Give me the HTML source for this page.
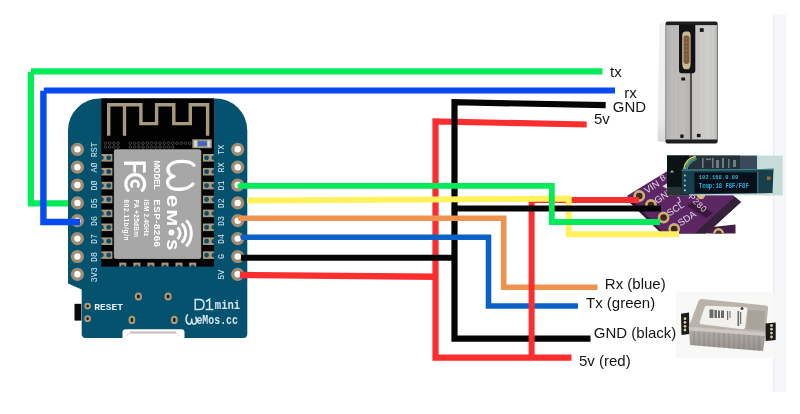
<!DOCTYPE html>
<html><head><meta charset="utf-8">
<style>
html,body{margin:0;padding:0;background:#fff;width:800px;height:414px;overflow:hidden}
svg{display:block;will-change:transform}
</style></head>
<body>
<svg width="800" height="414" viewBox="0 0 800 414" font-family="Liberation Sans, sans-serif">
<rect x="0" y="0" width="800" height="414" fill="#fff"/>
<!-- faint right band -->
<rect x="773" y="14" width="13" height="378" fill="#f5f7f8"/>
<rect x="773" y="14" width="1.4" height="378" fill="#eaecef"/>

<!-- particle sensor -->
<defs>
  <linearGradient id="sideg" x1="0" x2="0" y1="0" y2="1">
    <stop offset="0" stop-color="#f2f2f2"/><stop offset="0.8" stop-color="#ebebeb"/><stop offset="1" stop-color="#d6d6d6"/>
  </linearGradient>
  <linearGradient id="silverL" x1="0" x2="1" y1="0" y2="0">
    <stop offset="0" stop-color="#a8a6a4"/><stop offset="0.15" stop-color="#b8b6b4"/><stop offset="0.6" stop-color="#bebcba"/><stop offset="1" stop-color="#b6b4b2"/>
  </linearGradient>
  <linearGradient id="silverR" x1="0" x2="1" y1="0" y2="0">
    <stop offset="0" stop-color="#c4c2c0"/><stop offset="0.6" stop-color="#cdcbc9"/><stop offset="0.9" stop-color="#c8c6c4"/><stop offset="1" stop-color="#b8b6b4"/>
  </linearGradient>
</defs>
<g id="pms">
  <path d="M659.3 24 L665.6 22 L666 142.5 L657.6 141 Z" fill="url(#sideg)"/>
  <rect x="665.6" y="21.4" width="52" height="122.2" rx="2" fill="#1e1e1e"/>
  <rect x="665.6" y="25.1" width="25" height="114.4" fill="url(#silverL)"/>
  <rect x="691.6" y="25.1" width="25.4" height="114.4" fill="url(#silverR)"/>
  <rect x="690.1" y="73" width="1.6" height="67" fill="#4a4a4a"/>
  <g stroke="#ffffff" stroke-width="0.5" opacity="0.25">
    <path d="M668 26 V139"/><path d="M672 26 V139"/><path d="M675.5 75 V139"/><path d="M684 75 V139"/><path d="M696 26 V139"/><path d="M702 26 V139"/><path d="M708 26 V139"/><path d="M713 26 V139"/>
  </g>
  <path d="M679 24.5 H695.3 V70.5 A2.8 2.8 0 0 1 692.5 73.3 H681.8 A2.8 2.8 0 0 1 679 70.5 Z" fill="#121212"/>
  <path d="M685 31.6 H688.5 Q690.6 32.2 690.6 35.5 V64 Q690.6 67.5 688.8 69.2 H684.2 Q682.2 67.5 682.2 64 V35.5 Q682.2 32.2 685 31.6 Z" fill="#c9b896"/>
  <rect x="683.6" y="35.6" width="5.8" height="28.4" rx="2.4" fill="#7c5a40"/>
  <g fill="#a07850"><rect x="685.8" y="38" width="1.4" height="1.2"/><rect x="685.8" y="42" width="1.4" height="1.2"/><rect x="685.8" y="46" width="1.4" height="1.2"/><rect x="685.8" y="50" width="1.4" height="1.2"/><rect x="685.8" y="54" width="1.4" height="1.2"/><rect x="685.8" y="58" width="1.4" height="1.2"/></g>
  <g fill="#151515">
    <rect x="699.8" y="28.2" width="3.9" height="3.7"/>
    <rect x="681.3" y="77.5" width="3.8" height="3"/>
    <rect x="680.3" y="134.5" width="3.3" height="3.4"/>
    <rect x="696.9" y="133.9" width="3.6" height="3.3"/>
  </g>
</g>

<!-- top-left wires (behind board) -->
<g fill="none" stroke-linecap="butt" stroke-linejoin="miter">
  <path d="M602.5 71.45 H31" stroke="#04eb5a" stroke-width="6.3"/>
  <path d="M30.85 72 V203.4 H70" stroke="#04eb5a" stroke-width="6.3"/>
</g>

<!-- BOARD -->
<g id="board">
  <path d="M68 130.4 A32 32 0 0 1 100.2 98.4 H215.3 A32 32 0 0 1 247.3 130.4 V334 A4 4 0 0 1 243.3 338 H85.7 A4 4 0 0 1 81.7 334 V289.6 L68 283.4 Z" fill="#05526f"/>
  <!-- usb notch -->
  <path d="M122.5 340 V332.2 A3 3 0 0 1 125.5 329.2 H181.5 A3 3 0 0 1 184.5 332.2 V340 Z" fill="#fff"/>
  <path d="M126 336.5 L130 332.4 M176 332.4 L180 336.5" fill="none" stroke="#d6d6d8" stroke-width="1"/>
  <path d="M130 332.4 H176" fill="none" stroke="#c4bcbc" stroke-width="2"/>
  <!-- black module area -->
  <rect x="101.3" y="98.4" width="112.7" height="168.2" fill="#020202"/>
  <!-- antenna -->
  <g fill="none" stroke="#a89a7e" stroke-width="3.4" stroke-linejoin="miter">
    <path d="M108.7 135.8 V104.7 H140.9 V123.6 H156.6 V104.7 H173.8 V123.6 H190.3 V104.7 H207.6 V135.8"/>
    <path d="M124.5 104.7 V135.8"/>
  </g>
  <!-- dot rows -->
  <g fill="none" stroke="#4a4a4a" stroke-width="0.9">
    <circle cx="105.5" cy="143.2" r="1.3"/><circle cx="109.7" cy="143.2" r="1.3"/><circle cx="113.9" cy="143.2" r="1.3"/><circle cx="118.1" cy="143.2" r="1.3"/>
    <circle cx="105.5" cy="147.1" r="1.3"/><circle cx="109.7" cy="147.1" r="1.3"/><circle cx="113.9" cy="147.1" r="1.3"/><circle cx="118.1" cy="147.1" r="1.3"/>
    <circle cx="130.3" cy="143.2" r="1.3"/><circle cx="134.5" cy="143.2" r="1.3"/><circle cx="138.8" cy="143.2" r="1.3"/><circle cx="143.0" cy="143.2" r="1.3"/><circle cx="147.3" cy="143.2" r="1.3"/><circle cx="151.5" cy="143.2" r="1.3"/><circle cx="155.8" cy="143.2" r="1.3"/><circle cx="160.0" cy="143.2" r="1.3"/><circle cx="164.3" cy="143.2" r="1.3"/><circle cx="168.5" cy="143.2" r="1.3"/><circle cx="172.8" cy="143.2" r="1.3"/><circle cx="177.0" cy="143.2" r="1.3"/><circle cx="181.3" cy="143.2" r="1.3"/><circle cx="185.5" cy="143.2" r="1.3"/><circle cx="189.8" cy="143.2" r="1.3"/>
    <circle cx="130.3" cy="147.1" r="1.3"/><circle cx="134.5" cy="147.1" r="1.3"/><circle cx="138.8" cy="147.1" r="1.3"/><circle cx="143.0" cy="147.1" r="1.3"/><circle cx="147.3" cy="147.1" r="1.3"/><circle cx="151.5" cy="147.1" r="1.3"/><circle cx="155.8" cy="147.1" r="1.3"/><circle cx="160.0" cy="147.1" r="1.3"/><circle cx="164.3" cy="147.1" r="1.3"/><circle cx="168.5" cy="147.1" r="1.3"/><circle cx="172.8" cy="147.1" r="1.3"/>
  </g>
  <!-- SMD -->
  <rect x="192.3" y="139.3" width="19.5" height="8.9" fill="#9c9684"/>
  <rect x="194" y="140.5" width="3" height="6.5" fill="#d8d4c8"/>
  <rect x="207.3" y="140.5" width="3" height="6.5" fill="#d8d4c8"/>
  <rect x="198" y="141.3" width="8.9" height="4.5" fill="#3f64c8"/>
  <!-- pads -->
  <g id="padsL" fill="#a89878">
    <rect x="101.4" y="154" width="11" height="7.6"/>
    <rect x="101.4" y="167.9" width="11" height="7.6"/>
    <rect x="101.4" y="181.8" width="11" height="7.6"/>
    <rect x="101.4" y="195.7" width="11" height="7.6"/>
    <rect x="101.4" y="209.6" width="11" height="7.6"/>
    <rect x="101.4" y="223.5" width="11" height="7.6"/>
    <rect x="101.4" y="237.4" width="11" height="7.6"/>
    <rect x="101.4" y="251.3" width="11" height="7.6"/>
    <rect x="202.9" y="154" width="11" height="7.6"/>
    <rect x="202.9" y="167.9" width="11" height="7.6"/>
    <rect x="202.9" y="181.8" width="11" height="7.6"/>
    <rect x="202.9" y="195.7" width="11" height="7.6"/>
    <rect x="202.9" y="209.6" width="11" height="7.6"/>
    <rect x="202.9" y="223.5" width="11" height="7.6"/>
    <rect x="202.9" y="237.4" width="11" height="7.6"/>
    <rect x="202.9" y="251.3" width="11" height="7.6"/>
    <rect x="119.3" y="262.6" width="7" height="4"/>
    <rect x="133.4" y="262.6" width="7" height="4"/>
    <rect x="147.4" y="262.6" width="7" height="4"/>
    <rect x="161.5" y="262.6" width="7" height="4"/>
    <rect x="175.5" y="262.6" width="7" height="4"/>
    <rect x="189.2" y="262.6" width="7" height="4"/>
  </g>
  <g fill="#0b4a68">
    <circle cx="108.7" cy="157.8" r="2.4"/><circle cx="108.7" cy="171.7" r="2.4"/><circle cx="108.7" cy="185.6" r="2.4"/><circle cx="108.7" cy="199.5" r="2.4"/><circle cx="108.7" cy="213.4" r="2.4"/><circle cx="108.7" cy="227.3" r="2.4"/><circle cx="108.7" cy="241.2" r="2.4"/><circle cx="108.7" cy="255.1" r="2.4"/>
    <circle cx="101.6" cy="157.8" r="2.2"/><circle cx="101.6" cy="171.7" r="2.2"/><circle cx="101.6" cy="185.6" r="2.2"/><circle cx="101.6" cy="199.5" r="2.2"/><circle cx="101.6" cy="213.4" r="2.2"/><circle cx="101.6" cy="227.3" r="2.2"/><circle cx="101.6" cy="241.2" r="2.2"/><circle cx="101.6" cy="255.1" r="2.2"/>
    <circle cx="206.6" cy="157.8" r="2.4"/><circle cx="206.6" cy="171.7" r="2.4"/><circle cx="206.6" cy="185.6" r="2.4"/><circle cx="206.6" cy="199.5" r="2.4"/><circle cx="206.6" cy="213.4" r="2.4"/><circle cx="206.6" cy="227.3" r="2.4"/><circle cx="206.6" cy="241.2" r="2.4"/><circle cx="206.6" cy="255.1" r="2.4"/>
    <circle cx="213.7" cy="157.8" r="2.2"/><circle cx="213.7" cy="171.7" r="2.2"/><circle cx="213.7" cy="185.6" r="2.2"/><circle cx="213.7" cy="199.5" r="2.2"/><circle cx="213.7" cy="213.4" r="2.2"/><circle cx="213.7" cy="227.3" r="2.2"/><circle cx="213.7" cy="241.2" r="2.2"/><circle cx="213.7" cy="255.1" r="2.2"/>
    <circle cx="122.8" cy="266.6" r="2"/><circle cx="136.9" cy="266.6" r="2"/><circle cx="150.9" cy="266.6" r="2"/><circle cx="165" cy="266.6" r="2"/><circle cx="179" cy="266.6" r="2"/><circle cx="192.7" cy="266.6" r="2"/>
  </g>
  <!-- module can -->
  <rect x="114.3" y="149.8" width="86.5" height="108.6" rx="1.5" fill="#a7a7a7" stroke="#b8b8b8" stroke-width="0.8"/>
  <!-- FC logo -->
  <g fill="#fff">
    <rect x="124" y="161.5" width="21.7" height="3.4"/>
    <rect x="133.2" y="164.5" width="2.8" height="8"/>
    <rect x="142.9" y="164.5" width="2.9" height="8"/>
  </g>
  <g fill="none" stroke="#fff">
    <path d="M129.2 191.2 A9.4 9.4 0 1 1 141.2 191.2" stroke-width="3.2"/>
    <path d="M132.6 187.2 A3.6 3.6 0 1 1 137.4 187.2" stroke-width="2.6"/>
  </g>
  <g fill="#fff" font-weight="bold">
    <text transform="translate(153.6 160.4) rotate(90) scale(0.85 1)" font-size="9.5">MODEL</text>
    <text transform="translate(153.6 199.3) rotate(90)" font-size="9.6" letter-spacing="0.55">ESP-8266</text>
  </g>
  <g fill="#fff" font-weight="bold" font-size="6.4">
    <text transform="translate(144.4 199.5) rotate(90)" letter-spacing="0.2">ISM 2.4GHz</text>
    <text transform="translate(134.2 199.5) rotate(90)" letter-spacing="0.3">PA +25dBm</text>
    <text transform="translate(123.9 199.5) rotate(90)" letter-spacing="0.65">802.11b/g/n</text>
  </g>
  <!-- WeMos logo -->
  <path d="M193.9 165.2 C190 160.5 174 159.5 169 166 C166 171 170 176 174.1 176.3 C169 177 166 181 168.5 185.5 C171 190.5 187 191 192.9 184" fill="none" stroke="#fff" stroke-width="3.3" stroke-linecap="round" stroke-linejoin="round"/>
  <g fill="#fff">
    <text transform="translate(166.8 194.7) rotate(90) scale(1.25 1)" font-size="18" font-weight="bold">e</text>
    <text transform="translate(166.8 209.4) rotate(90) scale(1.3 1)" font-size="15.4" font-weight="bold">M</text>
    <circle cx="171.4" cy="232.6" r="3"/>
    <text transform="translate(166.8 239.2) rotate(90) scale(1.1 1)" font-size="18" font-weight="bold">s</text>
  </g>
  <g fill="none" stroke="#fff" stroke-width="3">
    <path d="M177.6 227.4 A8 8 0 0 1 177.6 239"/>
    <path d="M181.6 223.6 A13.4 13.4 0 0 1 181.6 242.8"/>
    <path d="M186.2 220.2 A19 19 0 0 1 186.2 246.2"/>
  </g>
  <!-- pins -->
  <g fill="#fff" stroke="#a28c72" stroke-width="3.4">
    <circle cx="77.4" cy="149.3" r="4.9"/><circle cx="77.4" cy="167.2" r="4.9"/><circle cx="77.4" cy="185" r="4.9"/><circle cx="77.4" cy="202.9" r="4.9"/><circle cx="77.4" cy="220.7" r="4.9"/><circle cx="77.4" cy="238.6" r="4.9"/><circle cx="77.4" cy="256.5" r="4.9"/><circle cx="77.4" cy="274.3" r="4.9"/>
    <circle cx="237.7" cy="149.3" r="4.9"/><circle cx="237.7" cy="167.2" r="4.9"/><circle cx="237.7" cy="185" r="4.9"/><circle cx="237.7" cy="202.9" r="4.9"/><circle cx="237.7" cy="220.7" r="4.9"/><circle cx="237.7" cy="238.6" r="4.9"/><circle cx="237.7" cy="256.5" r="4.9"/><circle cx="237.7" cy="274.3" r="4.9"/>
  </g>
  <!-- pin labels -->
  <g fill="#d6e6ee" font-size="8.3" font-family="Liberation Mono, monospace">
    <text transform="translate(97 157.3) rotate(-90)">RST</text>
    <text transform="translate(97 172.5) rotate(-90)">AØ</text>
    <text transform="translate(97 190.5) rotate(-90)">DØ</text>
    <text transform="translate(97 208.3) rotate(-90)">D5</text>
    <text transform="translate(97 226) rotate(-90)">D6</text>
    <text transform="translate(97 244) rotate(-90)">D7</text>
    <text transform="translate(97 262) rotate(-90)">D8</text>
    <text transform="translate(97 282.3) rotate(-90)">3V3</text>
    <text transform="translate(223.6 154.8) rotate(-90)">TX</text>
    <text transform="translate(223.6 172.5) rotate(-90)">RX</text>
    <text transform="translate(223.6 190.5) rotate(-90)">D1</text>
    <text transform="translate(223.6 208.3) rotate(-90)">D2</text>
    <text transform="translate(223.6 226) rotate(-90)">D3</text>
    <text transform="translate(223.6 244) rotate(-90)">D4</text>
    <text transform="translate(223.6 259) rotate(-90)">G</text>
    <text transform="translate(223.6 279.8) rotate(-90)">5V</text>
  </g>
  <!-- reset button and holes -->
  <rect x="74.5" y="303.8" width="6.8" height="16.8" fill="#0a0a0a"/>
  <g fill="#2a1c10" stroke="#b09a78" stroke-width="2">
    <circle cx="87.6" cy="306.1" r="2.4"/><circle cx="87.6" cy="318.7" r="2.4"/>
    <ellipse cx="138.4" cy="296.6" rx="2.6" ry="3"/><ellipse cx="168.1" cy="296.6" rx="2.6" ry="3"/>
    <ellipse cx="131.9" cy="319.9" rx="2.4" ry="3.2"/><ellipse cx="174.3" cy="319.9" rx="2.4" ry="3.2"/>
  </g>
  <text x="94.2" y="310.2" fill="#e6eef2" font-size="9.6" font-family="Liberation Mono, monospace" font-weight="bold">RESET</text>
  <g fill="none" stroke="#d8e6ee" stroke-width="1.5">
    <path d="M195.2 299.4 H199.5 C203 299.4 204 301.5 204 304.6 C204 307.8 203 309.6 199.5 309.6 H195.2 Z"/>
    <path d="M206 301.5 L209.6 299.2 V309.6 M205.6 309.6 H213.4"/>
    <path d="M187.8 314.2 C185 317.5 185.6 323.6 189.2 324.2 C191 324.5 191.7 322 191.7 318.5 C191.7 322 192.4 324.5 194.3 324.2 C197 323.7 197 319.5 195.6 316.6"/>
  </g>
  <text transform="translate(214.8 308.6) scale(1 1.22)" fill="#d8e6ee" font-size="10.6" font-family="Liberation Mono, monospace" font-weight="bold">mini</text>
  <text transform="translate(196.4 323.8) scale(1 1.2)" fill="#d8e6ee" font-size="9.9" font-family="Liberation Mono, monospace" font-weight="bold">eMos.cc</text>
  
  
</g>

<!-- BMP280 -->
<defs><clipPath id="bmpclip"><rect x="600" y="140" width="150" height="93.4"/></clipPath></defs>
<g id="bmp" clip-path="url(#bmpclip)">
  <path d="M627.5 195.5 L627.5 200.5 L664 236 L704 236 L741 202 L735 197 Z" fill="#2e1a30"/>
  <path d="M627.5 195.5 L692 156 L735 197 L690 238 L668 238 Z" fill="#5c2663"/>
  <path d="M735 197 L741 202 L703 236 L692 236 Z" fill="#34223a"/>
  <circle cx="701" cy="195" r="4.2" fill="#d8b870"/>
  <path d="M687 206 L694 201 L713 213 L706 218 Z" fill="#3a1838"/>
  <path d="M707.4 227.4 L735.5 224.6 L735.5 236 L707.4 236 Z" fill="#431d45"/>
  <circle cx="718.6" cy="233.6" r="4.3" fill="#4a2a18" stroke="#d0b478" stroke-width="2.4"/>
  <g fill="#3e2a1a" stroke="#cdb078" stroke-width="2.6">
    <circle cx="639.3" cy="196" r="4.6"/>
    <circle cx="651" cy="205" r="4.6"/>
    <circle cx="663.6" cy="217.5" r="4.6"/>
    <circle cx="674.2" cy="229" r="4.6"/>
  </g>
  <g fill="#e4d6ec" font-size="9.5">
    <text transform="translate(647 194) rotate(-33)">VIN</text>
    <text transform="translate(662 181.5) rotate(-33)" font-size="8">B</text>
    <path d="M662.3 186.2 L667.5 183 L667.5 189 Z"/>
    <text transform="translate(657 204) rotate(-33)">GND</text>
    <text transform="translate(669.5 216.5) rotate(-33)">SCL</text>
    <text transform="translate(680.5 226.5) rotate(-33)">SDA</text>
    <text transform="translate(688 197.5) rotate(45)" font-size="8.6" letter-spacing="0.4">P280</text>
    <text transform="translate(677.5 203.5) rotate(-20)" font-size="8.6">J</text>
  </g>
</g>

<!-- right wires group -->
<g fill="none" stroke-linecap="butt" stroke-linejoin="miter">
  <path d="M615 90.45 H43.8" stroke="#064af2" stroke-width="6.1"/>
  <path d="M43.4 90.7 V222 H80" stroke="#064af2" stroke-width="6.4"/>

  <!-- red main -->
  <path d="M586.7 124.5 L435.5 121.5 V357.7 H571.5" stroke="#fa2e2e" stroke-width="6.2"/>
  <path d="M240 275 L436 276.8" stroke="#fa2e2e" stroke-width="6.4"/>
  <!-- black main -->
  <path d="M605.7 105.2 L454.5 102.2 V338.6 H590.5" stroke="#050505" stroke-width="6.2"/>
  <path d="M241 257.7 H455" stroke="#050505" stroke-width="6"/>
  <!-- orange D3 -->
  <path d="M240.6 218.2 H503.7 V287.2 H597.5" stroke="#ee9250" stroke-width="5.6"/>
  <circle cx="240.6" cy="218.2" r="2.8" fill="#ee9250" stroke="none"/>
  <!-- blue D4 -->
  <path d="M243.2 237.2 H488.5 V306 H578" stroke="#0b61c6" stroke-width="5.6"/>
  <circle cx="243.2" cy="237.2" r="2.8" fill="#0b61c6" stroke="none"/>
  <!-- red to BMP VIN -->
  <path d="M531.6 357 V200 H639" stroke="#fa2e2e" stroke-width="6"/>
  <!-- yellow D2 -->
  <path d="M247 200.6 L568.7 198.5 V234.3 H679" stroke="#fff25c" stroke-width="6"/>
  <!-- black to BMP GND -->
  <path d="M455 208.4 H661" stroke="#050505" stroke-width="6"/>
  <!-- green D1 -->
  <path d="M240.3 185.8 H551.8 V222 H660" stroke="#04eb5a" stroke-width="5.8"/>
  <circle cx="240.3" cy="185.8" r="2.9" fill="#04eb5a" stroke="none"/>
</g>

<!-- OLED photo -->
<g id="oled">
  <rect x="667" y="155.6" width="115.7" height="39.8" fill="#c6dcd8"/>
  <rect x="667" y="155.6" width="90" height="14" fill="#3a4a5a"/>
  <rect x="667" y="155.6" width="73" height="14" fill="#26323a"/>
  <rect x="667" y="155.6" width="22" height="39.8" fill="#0a1414"/>
  <g fill="#6e7c84"><rect x="702" y="158" width="1.6" height="10"/><rect x="706" y="158.5" width="5" height="1.6"/><rect x="712" y="158" width="1.6" height="10"/><rect x="716" y="160" width="3" height="8"/><rect x="722" y="158" width="2" height="10"/><rect x="728" y="159" width="1.5" height="9"/><rect x="733" y="160" width="3" height="7"/></g>
  <path d="M683.8 169.5 C684.3 163 688.3 158 695.8 156.2" fill="none" stroke="#d7c860" stroke-width="1.5"/>
  <path d="M685.4 169.5 C685.9 164 689.7 159.5 696.2 157.6" fill="none" stroke="#6ab070" stroke-width="1.5"/>
  <path d="M687 169.5 C687.5 165 691.1 161 696.6 159" fill="none" stroke="#3a8aa8" stroke-width="1.5"/>
  <rect x="667" y="187" width="14.4" height="8.4" fill="#2a3636"/>
  <path d="M672 170 L674 172.5 L670 172.5 Z" fill="#a8b0b0"/>
  <path d="M681.8 169.6 L773.5 168.8 L772.5 193 L681.8 194.4 Z" fill="#17404c"/>
  <path d="M681.8 169.6 L773.5 168.8 L773.5 170 L681.8 170.8 Z" fill="#3f8796"/>
  <rect x="694.4" y="172.5" width="62.5" height="20.6" fill="#06101a"/>
  <rect x="757" y="171.5" width="1.4" height="21" fill="#4a6270"/>
  <g fill="#b0c4cc">
    <circle cx="684.9" cy="175.6" r="1"/><circle cx="684.9" cy="180.5" r="1"/><circle cx="684.9" cy="185.4" r="1"/><circle cx="684.9" cy="190.3" r="1"/>
  </g>
  <rect x="767" y="176.5" width="3.6" height="3.4" fill="#a86a30"/>
  <text transform="translate(698.8 178.9) scale(1 0.9)" fill="#34b2d4" font-size="5.5" font-family="Liberation Mono, monospace" font-weight="bold">192.168.0.88</text>
  <text transform="translate(698.8 188.1) scale(1 1.45)" fill="#22b4e4" font-size="5.55" font-family="Liberation Mono, monospace" font-weight="bold">Temp:18 F8F/F8F</text>
</g>

<!-- bottom sensor -->
<defs>
  <linearGradient id="bodyg" x1="0" x2="0" y1="0" y2="1">
    <stop offset="0" stop-color="#b3afaa"/><stop offset="1" stop-color="#97928e"/>
  </linearGradient>
</defs>
<g id="co2">
  <rect x="675.8" y="291.8" width="98.5" height="66.6" fill="#f8f8f7"/>
  <path d="M681 313.7 L689 312.5 L689.5 334 L681.5 335 Z" fill="#1a1a1a"/>
  <g fill="#d8cca0"><circle cx="685" cy="318.7" r="1.4"/><circle cx="685" cy="322.4" r="1.4"/><circle cx="685" cy="326.3" r="1.4"/><circle cx="685" cy="330" r="1.4"/></g>
  <path d="M688.8 327 L765.7 332.4 L763 351 L690 345 Z" fill="url(#bodyg)"/>
  <g stroke="#6e6a66" stroke-width="0.9" opacity="0.45">
    <path d="M694 331 V345.5"/><path d="M699 331 V346"/><path d="M704 331.5 V346.5"/><path d="M709 331.5 V347"/><path d="M714 332 V347.5"/><path d="M719 332 V348"/><path d="M724 332.5 V348"/><path d="M729 332.5 V348.5"/><path d="M734 333 V349"/><path d="M739 333 V349.5"/><path d="M744 333.5 V350"/><path d="M749 333.5 V350"/><path d="M754 334 V350.5"/><path d="M759 334 V351"/>
  </g>
  <path d="M688.8 327 L765.7 332.4 L765.5 336 L689 330.5 Z" fill="#cdc8c2"/>
  <path d="M702 299 L766 305.5 Q768.5 306 768 308.5 L765.7 332.4 L688.8 327 L698.5 301 Q699.5 298.8 702 299 Z" fill="#b9b3ab"/>
  <path d="M707 305.7 L745 307.2 Q748 307.4 747.3 310 L745.2 327 Q744.8 329.6 742 329.3 L701.5 324.3 Q699 324 699.8 321.5 L704.5 307.8 Q705.2 305.6 707 305.7 Z" fill="#f3f1ed"/>
  <g fill="#6a6a6a"><rect x="709.5" y="309.5" width="4" height="8.4"/><rect x="714.5" y="310" width="2.5" height="8"/><rect x="718" y="310.5" width="2" height="7.5"/><rect x="721" y="310.5" width="3" height="7.5"/><rect x="727" y="311" width="1.2" height="9"/><rect x="729.5" y="311" width="1" height="7"/><rect x="737.5" y="311" width="1.6" height="15"/><rect x="740" y="312" width="1.2" height="12"/></g><circle cx="742" cy="308.5" r="1.5" fill="#444"/>
  <path d="M748 310 L765 311 L764 330 L746 329 Z" fill="#a29c94" opacity="0.7"/>
  <path d="M765.6 323.5 L775.7 322.5 L775.7 340 L765.6 341 Z" fill="#1a1a1a"/>
  <g fill="#d8cca0"><circle cx="771.5" cy="325.5" r="1.4"/><circle cx="771.5" cy="329.2" r="1.4"/><circle cx="771.5" cy="333.1" r="1.4"/><circle cx="771.5" cy="337" r="1.4"/></g>
</g>

<!-- labels -->
<g font-size="15" fill="#151515">
  <text x="610" y="77">tx</text>
  <text x="624.2" y="98.1">rx</text>
  <text x="612.8" y="111.7">GND</text>
  <text x="594" y="123.5">5v</text>
  <text x="604.8" y="289">Rx (blue)</text>
  <text x="586" y="308">Tx (green)</text>
  <text x="593.8" y="338">GND (black)</text>
  <text x="579" y="366">5v (red)</text>
</g>
</svg>
</body></html>
